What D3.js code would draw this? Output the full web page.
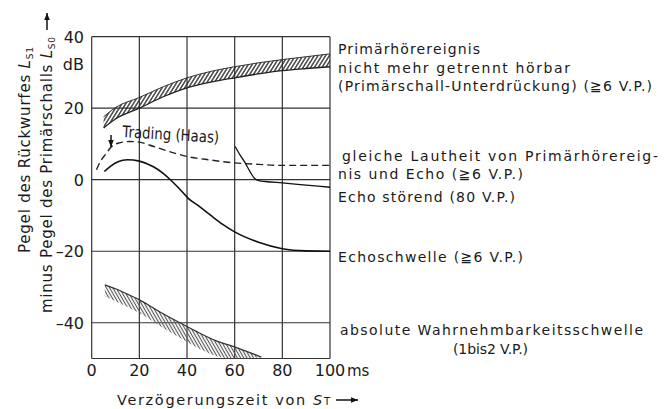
<!DOCTYPE html>
<html>
<head>
<meta charset="utf-8">
<script src="https://cdn.jsdelivr.net/npm/d3@7"></script>
<style>
  body { margin: 0; background: #fff; }
  svg { display: block; }
  text { font-family: "DejaVu Sans", sans-serif; fill: #1a1a1a; }
</style>
</head>
<body>
<svg id="chart" width="669" height="409"></svg>
<script>
// ---- data ----
let xTicks = [0, 20, 40, 60, 80, 100];
let yTicks = [-40, -20, 0, 20, 40];
let yTickLabels = ['\u201340', '\u201320', '0', '20', '40'];

// Primärschall-Unterdrückung (upper hatched band)
let suppX  = [5, 10, 20, 30, 40, 50, 60, 70, 80, 90, 100];
let suppLo = [14.5, 17, 20, 23.2, 25.7, 27.3, 28.5, 29.6, 30.5, 31.1, 31.6];
let suppHi = [17.6, 20.2, 23, 26, 28.5, 30.3, 31.6, 32.7, 33.6, 34.4, 35.2];

// gleiche Lautheit (dashed)
let loudX = [2, 4, 6.3, 8, 11, 16, 20, 26, 32, 40, 50, 60, 70, 80, 90, 100];
let loudY = [2.8, 5.5, 7.5, 9, 10.2, 10.7, 10.5, 9.3, 8, 6.5, 5.5, 4.7, 4.3, 4.0, 4.0, 4.0];

// Echoschwelle
let echoX = [5.3, 8, 11, 15, 20, 25.7, 30, 33, 36.5, 40.5, 45, 50, 55, 60, 70, 80, 90, 100];
let echoY = [2.3, 3.8, 5, 5.6, 5.2, 3.7, 1.8, 0, -2.3, -5.2, -7.4, -10, -12.5, -14.6, -17.5, -19.3, -19.9, -20];

// Echo störend
let disturbX = [60.2, 62, 64.4, 66.5, 68.6, 70.5, 72.8, 80, 90, 100];
let disturbY = [9.3, 7.2, 4.7, 2.2, 0.2, -0.3, -0.5, -0.9, -1.5, -2.1];

// absolute Wahrnehmbarkeitsschwelle (lower hatched band)
let absX  = [5.5, 10, 15, 20, 25, 30, 37, 45, 52, 59.3, 65, 71.2];
let absHi = [-29.4, -30.5, -32, -33.6, -35.5, -37.5, -40, -42.8, -45, -46.6, -48, -49.6];
let absLo = [-32.6, -34, -35.6, -37.3, -39.3, -41.5, -44.2, -47.2, -49.2, -50, -50, -49.6];

// ---- layout ----
let svg = d3.select('#chart');
let x = d3.scaleLinear().domain([0, 100]).range([91.7, 330]);
let y = d3.scaleLinear().domain([-50, 40]).range([358.5, 36.7]);

let defs = svg.append('defs');
function hatch(id, angle, gap, color, w) {
  let p = defs.append('pattern')
    .attr('id', id)
    .attr('patternUnits', 'userSpaceOnUse')
    .attr('width', gap)
    .attr('height', 10)
    .attr('patternTransform', 'rotate(' + angle + ')');
  p.append('line')
    .attr('x1', gap / 2).attr('x2', gap / 2)
    .attr('y1', 0).attr('y2', 10)
    .attr('stroke', color)
    .attr('stroke-width', w);
}
hatch('hatchUp', 32, 3.2, '#2a2a2a', 1.3);
hatch('hatchDown', -30, 2.8, '#555', 1.1);

// grid
let grid = svg.append('g').attr('stroke', '#333').attr('stroke-width', 1.2);
grid.selectAll('.vg').data(xTicks).enter().append('line')
  .attr('x1', d => x(d)).attr('x2', d => x(d))
  .attr('y1', y(40)).attr('y2', y(-50));
grid.selectAll('.hg').data(yTicks.concat([-50])).enter().append('line')
  .attr('x1', x(0)).attr('x2', x(100))
  .attr('y1', d => y(d)).attr('y2', d => y(d));

// bands
function band(xs, lo, hi) {
  return xs.map((v, i) => ({x: v, lo: lo[i], hi: hi[i]}));
}
let area = d3.area()
  .x(d => x(d.x)).y0(d => y(d.lo)).y1(d => y(d.hi))
  .curve(d3.curveMonotoneX);
let edgeLo = d3.line().x(d => x(d.x)).y(d => y(d.lo)).curve(d3.curveMonotoneX);
let edgeHi = d3.line().x(d => x(d.x)).y(d => y(d.hi)).curve(d3.curveMonotoneX);

let supp = band(suppX, suppLo, suppHi);
svg.append('path').attr('d', area(supp)).attr('fill', 'url(#hatchUp)');
svg.append('path').attr('d', edgeLo(supp)).attr('fill', 'none').attr('stroke', '#222').attr('stroke-width', 1.3);
svg.append('path').attr('d', edgeHi(supp)).attr('fill', 'none').attr('stroke', '#333').attr('stroke-width', 1);

let abs = band(absX, absLo, absHi);
svg.append('path').attr('d', area(abs)).attr('fill', 'url(#hatchDown)');
svg.append('path').attr('d', edgeHi(abs)).attr('fill', 'none').attr('stroke', '#333').attr('stroke-width', 1.2);

// curves
let line = d3.line().x(d => x(d[0])).y(d => y(d[1])).curve(d3.curveMonotoneX);
let zip = (a, b) => a.map((v, i) => [v, b[i]]);

svg.append('path').attr('d', line(zip(loudX, loudY)))
  .attr('fill', 'none').attr('stroke', '#222').attr('stroke-width', 1.4)
  .attr('stroke-dasharray', '7,4');
svg.append('path').attr('d', line(zip(echoX, echoY)))
  .attr('fill', 'none').attr('stroke', '#111').attr('stroke-width', 1.6);
svg.append('path').attr('d', line(zip(disturbX, disturbY)))
  .attr('fill', 'none').attr('stroke', '#111').attr('stroke-width', 1.3);

// tick labels
svg.selectAll('.yl').data(yTicks).enter().append('text')
  .attr('x', 84).attr('y', d => y(d) + 6)
  .attr('text-anchor', 'end').attr('font-size', 16)
  .text((d, i) => yTickLabels[i]);
svg.append('text').attr('x', 84).attr('y', 70)
  .attr('text-anchor', 'end').attr('font-size', 16).text('dB');

svg.selectAll('.xl').data(xTicks).enter().append('text')
  .attr('x', d => x(d)).attr('y', 376)
  .attr('text-anchor', 'middle').attr('font-size', 16)
  .text(d => d);
svg.append('text').attr('x', x(100) + 17).attr('y', 376)
  .attr('font-size', 15).text('ms');

// x axis title
let xt = svg.append('text').attr('x', 117).attr('y', 405)
  .attr('font-size', 14.5).attr('textLength', 213).attr('lengthAdjust', 'spacing');
xt.append('tspan').text('Verzögerungszeit von ');
xt.append('tspan').attr('font-style', 'italic').text('S');
xt.append('tspan').attr('font-size', 10).text('T');

function arrow(x1, y1, x2, y2) {
  svg.append('line').attr('x1', x1).attr('y1', y1).attr('x2', x2).attr('y2', y2)
    .attr('stroke', '#111').attr('stroke-width', 1.5);
  let a = Math.atan2(y2 - y1, x2 - x1), L = 7, W = 2.8;
  let bx = x2 - L * Math.cos(a), by = y2 - L * Math.sin(a);
  svg.append('path')
    .attr('d', 'M' + x2 + ',' + y2 +
      'L' + (bx - W * Math.sin(a)) + ',' + (by + W * Math.cos(a)) +
      'L' + (bx + W * Math.sin(a)) + ',' + (by - W * Math.cos(a)) + 'Z')
    .attr('fill', '#111');
}
arrow(336, 400, 358, 400);

// y axis title (two rotated lines)
let yt1 = svg.append('text')
  .attr('transform', 'translate(30,253) rotate(-90)')
  .attr('font-size', 15).attr('textLength', 206).attr('lengthAdjust', 'spacing');
yt1.append('tspan').text('Pegel des Rückwurfes ');
yt1.append('tspan').attr('font-style', 'italic').text('L');
yt1.append('tspan').attr('font-size', 9).attr('dy', 3).text('S1');

let yt2 = svg.append('text')
  .attr('transform', 'translate(52,313) rotate(-90)')
  .attr('font-size', 15).attr('textLength', 276).attr('lengthAdjust', 'spacing');
yt2.append('tspan').text('minus Pegel des Primärschalls ');
yt2.append('tspan').attr('font-style', 'italic').text('L');
yt2.append('tspan').attr('font-size', 9).attr('dy', 3).text('S0');
arrow(47, 30, 47, 13);

// Trading (Haas)
svg.append('text')
  .attr('transform', 'translate(122,137) rotate(3.5)')
  .attr('font-family', 'Liberation Sans, Arial, sans-serif')
  .attr('font-size', 16).attr('textLength', 97).attr('lengthAdjust', 'spacingAndGlyphs')
  .text('Trading (Haas)');
arrow(111, 135, 111, 147);

// right-hand annotations
let notes = [
  {t: 'Primärhörereignis', x: 338, y: 54, w: 142},
  {t: 'nicht mehr getrennt hörbar', x: 338, y: 72.5, w: 232},
  {t: '(Primärschall-Unterdrückung) (\u22676 V.P.)', x: 338, y: 91, w: 314},
  {t: 'gleiche Lautheit von Primärhörereig-', x: 342, y: 160.5, w: 316},
  {t: 'nis und Echo (\u22676 V.P.)', x: 338, y: 179, w: 185},
  {t: 'Echo störend (80 V.P.)', x: 338, y: 202, w: 177},
  {t: 'Echoschwelle (\u22676 V.P.)', x: 338, y: 261.5, w: 185},
  {t: 'absolute Wahrnehmbarkeitsschwelle', x: 340, y: 334.5, w: 303},
  {t: '(1bis2 V.P.)', x: 453, y: 354, w: 75}
];
svg.selectAll('.note').data(notes).enter().append('text')
  .attr('x', d => d.x).attr('y', d => d.y)
  .attr('font-size', 14).attr('fill', '#222')
  .attr('textLength', d => d.w).attr('lengthAdjust', 'spacing')
  .text(d => d.t);
</script>
</body>
</html>
